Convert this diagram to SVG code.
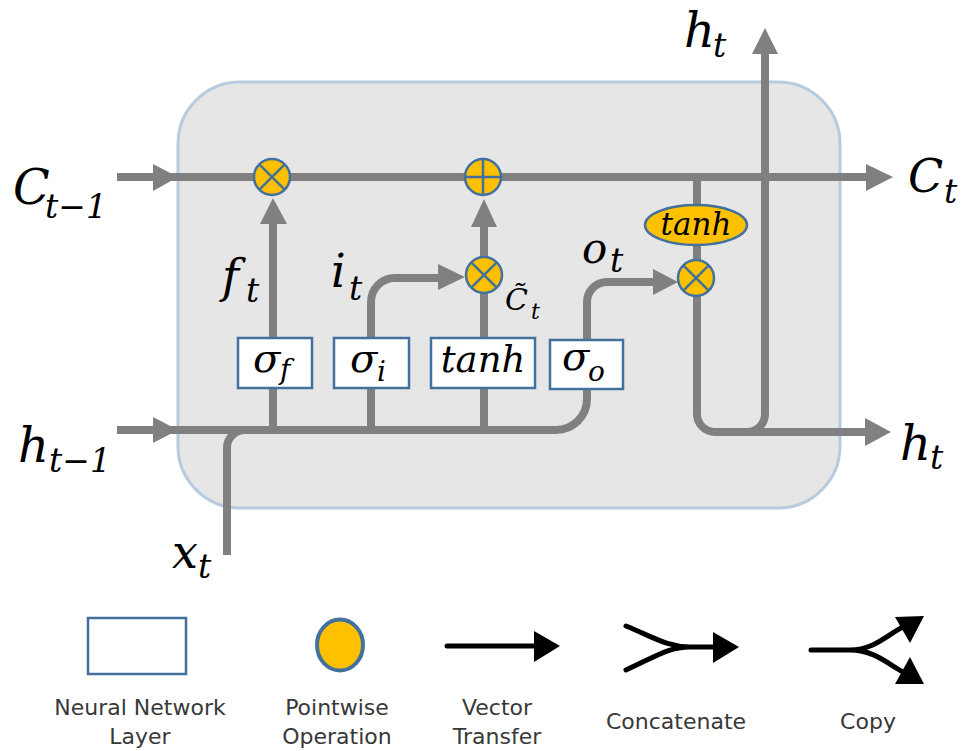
<svg xmlns="http://www.w3.org/2000/svg" width="961" height="751" viewBox="0 0 961 751">
<style>
.cn{fill:none;stroke:#808080;stroke-width:8}
.hd{fill:#808080}
.op{fill:#ffc000;stroke:#41719c;stroke-width:2.5}
.sym{stroke:#41719c;stroke-width:2.5}
.box{fill:#fff;stroke:#41719c;stroke-width:2.5}
.m{font-family:"DejaVu Serif",serif;font-style:italic;fill:#000}
.lg{font-family:"DejaVu Sans",sans-serif;font-size:22px;fill:#383838;text-anchor:middle}
.bk{fill:none;stroke:#000;stroke-width:5;stroke-linecap:round}
</style>
<rect width="961" height="751" fill="#fff"/>
<g id="cell"><rect x="178" y="82" width="662" height="426" rx="62" ry="62" fill="#e6e6e6" stroke="#b8cbde" stroke-width="3"/></g>
<g id="connectors">
<path class="cn" d="M117,177 H868"/>
<polygon class="hd" points="153,164 178,177 153,191"/>
<polygon class="hd" points="866,164 893,177 866,191"/>
<path class="cn" d="M117,430 H556 A31,31 0 0 0 587,399 V302 A20,20 0 0 1 607,282 H656"/>
<polygon class="hd" points="153,417 178,430 153,443"/>
<polygon class="hd" points="653,269 678,282 653,295"/>
<path class="cn" d="M227,555 V448 A18,18 0 0 1 245,430"/>
<path class="cn" d="M273,430 V222"/>
<polygon class="hd" points="260,224 273,198 287,224"/>
<path class="cn" d="M371,430 V302 A24,24 0 0 1 395,278 H441"/>
<polygon class="hd" points="438,264 465,277 438,290"/>
<path class="cn" d="M484,430 V280 M484,257 V225"/>
<polygon class="hd" points="471,227 484,199 497,227"/>
<path class="cn" d="M697,177 V278 M697,290 V414 A18,18 0 0 0 715,432 H867"/>
<polygon class="hd" points="865,418 891,432 865,446"/>
<path class="cn" d="M747,432 A18,18 0 0 0 765,414 V52"/>
<polygon class="hd" points="752,54 765,28 778,54"/>
</g>
<g id="mul_f"><circle class="op" cx="272" cy="177" r="18"/><path class="sym" d="M259.3,164.3 L284.7,189.7 M284.7,164.3 L259.3,189.7"/></g>
<g id="add_c"><circle class="op" cx="483" cy="177" r="18"/><path class="sym" d="M465,177 H501 M483,159 V195"/></g>
<g id="mul_i"><circle class="op" cx="484" cy="275" r="18"/><path class="sym" d="M471.3,262.3 L496.7,287.7 M496.7,262.3 L471.3,287.7"/></g>
<g id="mul_o"><circle class="op" cx="696" cy="278" r="18"/><path class="sym" d="M683.3,265.3 L708.7,290.7 M708.7,265.3 L683.3,290.7"/></g>
<g id="tanh_op"><ellipse class="op" cx="696" cy="225" rx="51" ry="20"/><text class="m" x="696" y="235" font-size="31" text-anchor="middle">tanh</text></g>
<g id="sigma_f"><rect class="box" x="238" y="338" width="74" height="50"/><text class="m" x="253" y="372" font-size="40">σ</text><text class="m" x="280" y="379" font-size="28">f</text></g>
<g id="sigma_i"><rect class="box" x="334" y="338" width="75" height="50"/><text class="m" x="350" y="372" font-size="40">σ</text><text class="m" x="377" y="381" font-size="28">i</text></g>
<g id="tanh_layer"><rect class="box" x="431" y="338" width="104" height="50"/><text class="m" x="483" y="372" font-size="37" text-anchor="middle">tanh</text></g>
<g id="sigma_o"><rect class="box" x="550" y="340" width="73" height="49"/><text class="m" x="562" y="370" font-size="40">σ</text><text class="m" x="588" y="381" font-size="28">o</text></g>
<g id="labels">
<text class="m" x="13" y="204" font-size="48">C</text><text class="m" x="45" y="218" font-size="33">t−1</text>
<text class="m" x="18" y="462" font-size="48">h</text><text class="m" x="49" y="472" font-size="33">t−1</text>
<text class="m" x="684" y="47" font-size="48">h</text><text class="m" x="713" y="57" font-size="33">t</text>
<text class="m" x="908" y="192" font-size="46">C</text><text class="m" x="944" y="203" font-size="33">t</text>
<text class="m" x="900" y="460" font-size="48">h</text><text class="m" x="930" y="469" font-size="33">t</text>
<text class="m" x="172" y="568" font-size="46">x</text><text class="m" x="198" y="578" font-size="33">t</text>
<text class="m" x="222" y="292" font-size="46">f</text><text class="m" x="246" y="302" font-size="33">t</text>
<text class="m" x="331" y="287" font-size="46">i</text><text class="m" x="349" y="300" font-size="33">t</text>
<text class="m" x="582" y="263" font-size="42">o</text><text class="m" x="610" y="272" font-size="33">t</text>
<text class="m" x="505" y="310" font-size="30">C̃</text><text class="m" x="531" y="319" font-size="22">t</text>
</g>
<g id="legend">
<rect x="88" y="618" width="98" height="56" fill="#fff" stroke="#41719c" stroke-width="2.5"/>
<text class="lg" x="140" y="715">Neural Network</text><text class="lg" x="140" y="744">Layer</text>
<ellipse cx="340" cy="645" rx="23" ry="25.5" fill="#ffc000" stroke="#41719c" stroke-width="4"/>
<text class="lg" x="337" y="715">Pointwise</text><text class="lg" x="337" y="744">Operation</text>
<path class="bk" d="M447,646 H537"/><polygon points="534,631 560,646 534,662"/>
<text class="lg" x="497" y="715">Vector</text><text class="lg" x="497" y="744">Transfer</text>
<path class="bk" d="M626,626 C655,638 668,647 690,647 H716 M626,670 C655,657 668,647 690,647" stroke-linecap="butt"/><polygon points="713,632 739,647 713,663"/>
<text class="lg" x="676" y="729">Concatenate</text>
<path class="bk" d="M811,650 H850 C874,650 888,634 903,627 M850,650 C874,650 888,664 903,672" stroke-linecap="butt"/>
<polygon points="895,617 924,616 910,643"/><polygon points="910,657 924,684 895,684"/>
<text class="lg" x="868" y="729">Copy</text>
</g>
</svg>
